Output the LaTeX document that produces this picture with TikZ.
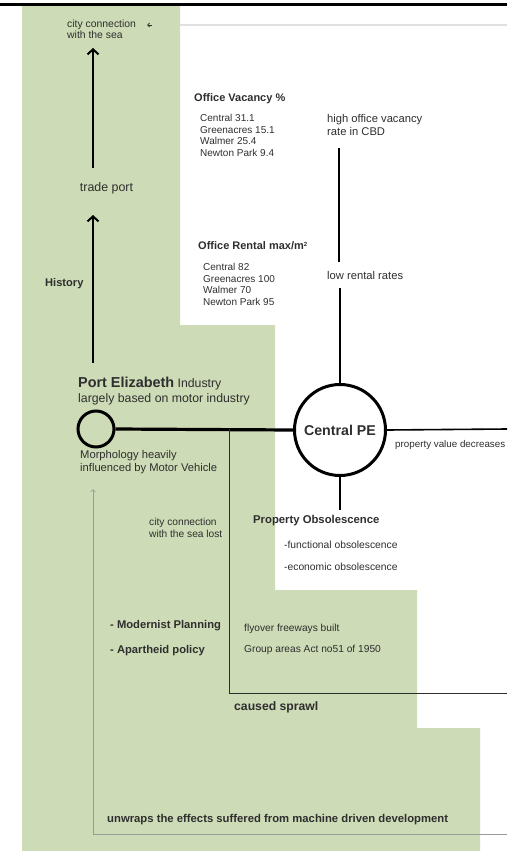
\documentclass[tikz,border=0pt]{standalone}
\usepackage{fontspec}
\setmainfont{Liberation Sans}
\usetikzlibrary{arrows.meta}
\definecolor{sage}{HTML}{CDDBB6}
\definecolor{ink}{HTML}{2E2E2E}
\definecolor{soft}{HTML}{9A9A9A}
\tikzset{
  txt/.style={anchor=west, inner sep=0pt, text=ink, align=left,
    font=\fontsize{10}{11.6}\selectfont},
  bold/.style={txt, font=\fontsize{11}{12}\selectfont\bfseries},
  hub/.style={circle, draw=black, line width=3pt, inner sep=0pt},
  uparrow/.style={line width=2pt, -{Straight Barb[length=5pt,width=11pt,line width=2pt]}},
  spine/.style={line width=2pt},
}
\begin{document}
\begin{tikzpicture}[x=1pt,y=-1pt]
\useasboundingbox (0,0) rectangle (507,851);
\clip (0,0) rectangle (507,851);

% stepped green background
\fill[sage] (22,6) -- (180,6) -- (180,325) -- (275,325) -- (275,590)
  -- (417,590) -- (417,728) -- (480,728) -- (480,851) -- (22,851) -- cycle;
% top rule and faint guide line
\fill[black] (0,3.5) rectangle (507,6);
\draw[black!12, line width=1.5pt] (180,25) -- (507,25);

% history column
\node[txt, font=\fontsize{10.4}{11.5}\selectfont] (sea) at (67,29.5) {city connection\\with the sea};
\coordinate (seamark) at (147,25);
\draw[ink, line width=0.8pt, -{Straight Barb[length=2pt,width=4pt]}] ([xshift=5pt]seamark) -- (seamark);
\node[txt, font=\fontsize{12.4}{14}\selectfont, anchor=center] (trade) at (106.5,188) {trade port};
\node[bold, font=\fontsize{11.1}{12}\selectfont\bfseries] (hist) at (45,284) {History};
\coordinate (tradefoot) at (93,168);
\coordinate (histfoot) at (93,363);
\draw[uparrow] (tradefoot) -- (93,48);
\draw[uparrow] (histfoot) -- (93,215);

% office vacancy block
\node[bold] (vacT) at (194,99) {Office Vacancy \%};
\node[txt] (vac) at (200,135.5) {Central 31.1\\Greenacres 15.1\\Walmer 25.4\\Newton Park 9.4};
\node[txt, font=\fontsize{11.2}{13}\selectfont] (high) at (327,124.5) {high office vacancy\\rate in CBD};

% office rental block
\node[bold] (rentT) at (198,246) {Office Rental max/m\raisebox{3.5pt}{\fontsize{6}{6}\selectfont 2}};
\node[txt] (rent) at (203,284.5) {Central 82\\Greenacres 100\\Walmer 70\\Newton Park 95};
\node[txt, font=\fontsize{11.2}{13}\selectfont] (low) at (327,275) {low rental rates};

% Port Elizabeth
\node[txt, font=\fontsize{12.3}{15}\selectfont] (peT) at (78,391.5)
  {{\fontsize{14.4}{15}\selectfont\bfseries Port Elizabeth} Industry\\largely based on motor industry};
\node[hub, minimum size=36pt] (pe) at (96,429) {};
\node[txt, font=\fontsize{11.2}{12.5}\selectfont] (morph) at (80,462) {Morphology heavily\\influenced by Motor Vehicle};

% Central PE
\node[hub, minimum size=91pt, font=\fontsize{14.2}{16}\selectfont\bfseries, text=ink] (cpe) at (340,430) {Central PE};
\node[txt, font=\fontsize{9.8}{12}\selectfont] (decr) at (395,445) {property value decreases};
\coordinate (rightend) at (507,429);
\coordinate (highfoot) at (339,148);
\coordinate (lowtop) at (339,262);
\coordinate (lowfoot) at (340,288);
\coordinate (obstop) at (340,510);

\draw[line width=3.2pt] (pe.east) -- (cpe.west);
\draw[line width=1.6pt] (cpe.east) -- (rightend);
\draw[spine] (highfoot) -- (lowtop);
\draw[spine] (lowfoot) -- (cpe.north);
\draw[spine] (cpe.south) -- (obstop);

% obsolescence
\node[bold, font=\fontsize{11.3}{12}\selectfont\bfseries] (obsT) at (253,521) {Property Obsolescence};
\node[txt, font=\fontsize{10.3}{11}\selectfont] (func) at (284,545) {-functional obsolescence};
\node[txt, font=\fontsize{10.3}{11}\selectfont] (econ) at (284,567) {-economic obsolescence};

% loss of the sea connection
\node[txt, font=\fontsize{10.2}{12}\selectfont] (lost) at (149,528) {city connection\\with the sea lost};

% planning causes
\coordinate (branch) at (229,429);
\coordinate (elbow) at (229,693);
\coordinate (elbowend) at (507,693);
\draw[ink, line width=1pt] (branch) -- (elbow) -- (elbowend);
\node[bold, font=\fontsize{11.2}{12}\selectfont\bfseries] (modern) at (110,625.5) {- Modernist Planning};
\node[bold, font=\fontsize{11.2}{12}\selectfont\bfseries] (apart) at (110,651) {- Apartheid policy};
\node[txt, font=\fontsize{10.2}{12}\selectfont] (fly) at (244,628.5) {flyover freeways built};
\node[txt, font=\fontsize{10.2}{12}\selectfont] (group) at (244,650) {Group areas Act no51 of 1950};
\node[bold, font=\fontsize{12.2}{14}\selectfont\bfseries] (sprawl) at (234,707) {caused sprawl};

% bottom frame
\node[bold, font=\fontsize{11.3}{12}\selectfont\bfseries] (unwrap) at (107,819.5) {unwraps the effects suffered from machine driven development};
\coordinate (frameR) at (507,834);
\coordinate (frameL) at (93,834);
\coordinate (frameTip) at (93,489);
\draw[soft, line width=0.7pt, -{Straight Barb[length=2.5pt,width=5pt]}] (frameR) -- (frameL) -- (frameTip);
\end{tikzpicture}
\end{document}
